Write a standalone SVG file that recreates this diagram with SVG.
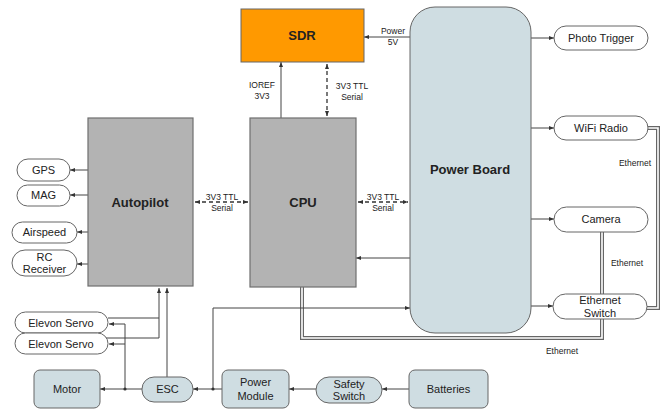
<svg xmlns="http://www.w3.org/2000/svg" width="671" height="410" viewBox="0 0 671 410">
<defs>
<marker id="a" markerUnits="userSpaceOnUse" markerWidth="6" markerHeight="6" refX="5" refY="3" orient="auto-start-reverse">
<path d="M0,1 L5,3 L0,5 z" fill="#333"/>
</marker>
<marker id="d" markerUnits="userSpaceOnUse" markerWidth="4" markerHeight="4" refX="2" refY="2">
<circle cx="2" cy="2" r="1.5" fill="#333"/>
</marker>
</defs>
<style>
text{font-family:"Liberation Sans",Arial,sans-serif;fill:#222;text-anchor:middle}
.b{font-weight:bold;font-size:13px}
.m{font-size:11px}
.s{font-size:8.5px}
.gray{fill:#b3b3b3;stroke:#6e6e6e;stroke-width:1.2}
.blue{fill:#cfdde2;stroke:#666;stroke-width:1}
.ov{fill:#fff;stroke:#666;stroke-width:1}
.ln{fill:none;stroke:#444;stroke-width:1}
.ds{fill:none;stroke:#333;stroke-width:1.3;stroke-dasharray:4,3}
.dbo{fill:none;stroke:#666;stroke-width:4}
.dbi{fill:none;stroke:#fff;stroke-width:1.6}
</style>
<rect width="671" height="410" fill="#fff"/>

<g id="connectors">
<!-- double ethernet lines -->
<path class="dbo" d="M602,232 V294 M602,319 V338 H302 V287 M648,128 H658 V308 H647"/>
<path class="dbi" d="M602,232 V294 M602,319 V338 H302 V287 M648,128 H658 V308 H647"/>
<!-- SDR links -->
<line class="ln" x1="281" y1="118" x2="281" y2="62" marker-end="url(#a)"/>
<line class="ds" x1="327" y1="64" x2="327" y2="116" marker-start="url(#a)" marker-end="url(#a)"/>
<line class="ln" x1="410" y1="37" x2="364" y2="37" marker-end="url(#a)"/>
<!-- serial -->
<line class="ds" x1="195" y1="202" x2="248" y2="202" marker-start="url(#a)" marker-end="url(#a)"/>
<line class="ds" x1="358" y1="202" x2="408" y2="202" marker-start="url(#a)" marker-end="url(#a)"/>
<!-- PB to CPU -->
<line class="ln" x1="410" y1="258" x2="356" y2="258" marker-end="url(#a)"/>
<!-- power module to PB -->
<path class="ln" d="M213,389 V308 H410" marker-end="url(#a)"/>
<!-- PB to right nodes -->
<line class="ln" x1="530" y1="38" x2="554" y2="38" marker-end="url(#a)"/>
<line class="ln" x1="530" y1="128" x2="554" y2="128" marker-end="url(#a)"/>
<line class="ln" x1="530" y1="219" x2="554" y2="219" marker-end="url(#a)"/>
<line class="ln" x1="530" y1="306" x2="553" y2="306" marker-end="url(#a)"/>
<!-- autopilot to sensors -->
<line class="ln" x1="88" y1="170" x2="70" y2="170" marker-end="url(#a)"/>
<line class="ln" x1="88" y1="195" x2="70" y2="195" marker-end="url(#a)"/>
<line class="ln" x1="88" y1="232" x2="77" y2="232" marker-end="url(#a)"/>
<line class="ln" x1="88" y1="264" x2="77" y2="264" marker-end="url(#a)"/>
<!-- servos to autopilot -->
<path class="ln" d="M108,318 H159 M106,338 H159 M159,338 V288" marker-end="url(#a)"/>
<line class="ln" x1="167" y1="377" x2="167" y2="288" marker-end="url(#a)"/>
<!-- ESC power to servos -->
<path class="ln" d="M125,389 V324 H109" marker-end="url(#a)"/>
<line class="ln" x1="125" y1="344" x2="109" y2="344" marker-end="url(#a)"/>
<!-- bottom chain -->
<line class="ln" x1="409" y1="389" x2="382" y2="389" marker-end="url(#a)"/>
<line class="ln" x1="316" y1="389" x2="289" y2="389" marker-end="url(#a)"/>
<line class="ln" x1="222" y1="389" x2="193" y2="389" marker-end="url(#a)"/>
<line class="ln" x1="142" y1="389" x2="100" y2="389" marker-end="url(#a)"/>
<circle cx="213" cy="389" r="1.6" fill="#333"/>
<circle cx="125" cy="389" r="1.6" fill="#333"/>
<!-- labels -->
<text class="s" x="262" y="88">IOREF</text>
<text class="s" x="262" y="99">3V3</text>
<text class="s" x="352" y="89">3V3 TTL</text>
<text class="s" x="352" y="100">Serial</text>
<text class="s" x="393" y="34">Power</text>
<text class="s" x="393" y="45">5V</text>
<text class="s" x="222" y="200">3V3 TTL</text>
<text class="s" x="222" y="211">Serial</text>
<text class="s" x="383" y="200">3V3 TTL</text>
<text class="s" x="383" y="211">Serial</text>
<text class="s" x="635" y="166">Ethernet</text>
<text class="s" x="627" y="266">Ethernet</text>
<text class="s" x="562" y="354">Ethernet</text>
</g>

<g id="sdr"><rect x="241" y="9" width="123" height="53" fill="#ff9900" stroke="#666" stroke-width="1"/><text class="b" x="302" y="40">SDR</text></g>
<g id="powerboard"><rect x="410" y="7" width="121" height="326" rx="25" class="blue"/><text class="b" x="470" y="174">Power Board</text></g>
<g id="autopilot"><rect x="88" y="118" width="105" height="168" class="gray"/><text class="b" x="140" y="207">Autopilot</text></g>
<g id="cpu"><rect x="250" y="118" width="106" height="169" class="gray"/><text class="b" x="303" y="207">CPU</text></g>

<g id="phototrigger"><rect x="554" y="26" width="94" height="24" rx="12" class="ov"/><text class="m" x="601" y="42">Photo Trigger</text></g>
<g id="wifi"><rect x="554" y="116" width="94" height="24" rx="12" class="ov"/><text class="m" x="601" y="132">WiFi Radio</text></g>
<g id="camera"><rect x="554" y="207" width="94" height="25" rx="12.5" class="ov"/><text class="m" x="601" y="223">Camera</text></g>
<g id="ethswitch"><rect x="553" y="294" width="94" height="25" rx="12.5" class="ov"/><text class="m" x="600" y="304">Ethernet</text><text class="m" x="600" y="317">Switch</text></g>

<g id="gps"><rect x="17" y="159" width="53" height="22" rx="11" class="ov"/><text class="m" x="43.5" y="174">GPS</text></g>
<g id="mag"><rect x="17" y="185" width="53" height="21" rx="10.5" class="ov"/><text class="m" x="43.5" y="199">MAG</text></g>
<g id="airspeed"><rect x="12" y="222" width="65" height="21" rx="10.5" class="ov"/><text class="m" x="44.5" y="236">Airspeed</text></g>
<g id="rc"><rect x="12" y="250" width="65" height="26" rx="13" class="ov"/><text class="m" x="44.5" y="261">RC</text><text class="m" x="44.5" y="273">Receiver</text></g>

<g id="servo1"><rect x="15" y="312" width="93" height="21" rx="10.5" class="ov"/><text class="m" x="61" y="327">Elevon Servo</text></g>
<g id="servo2"><rect x="15" y="333" width="93" height="21" rx="10.5" class="ov"/><text class="m" x="61" y="348">Elevon Servo</text></g>

<g id="motor"><rect x="34" y="370" width="66" height="38" rx="6" class="blue"/><text class="m" x="67" y="393">Motor</text></g>
<g id="esc"><rect x="142" y="377" width="51" height="25" rx="12" class="blue"/><text class="m" x="167.5" y="393">ESC</text></g>
<g id="powermodule"><rect x="222" y="370" width="67" height="38" rx="6" class="blue"/><text class="m" x="255.5" y="386">Power</text><text class="m" x="255.5" y="400">Module</text></g>
<g id="safety"><rect x="316" y="377" width="66" height="26" rx="13" class="blue"/><text class="m" x="349" y="388">Safety</text><text class="m" x="349" y="400">Switch</text></g>
<g id="batteries"><rect x="409" y="370" width="79" height="38" rx="6" class="blue"/><text class="m" x="448.5" y="393">Batteries</text></g>
</svg>
